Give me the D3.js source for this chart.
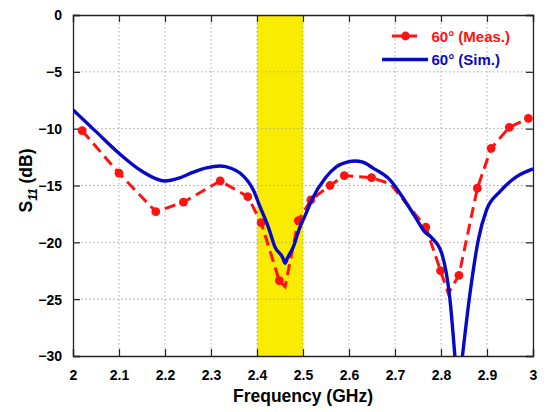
<!DOCTYPE html>
<html>
<head>
<meta charset="utf-8">
<script src="https://cdn.jsdelivr.net/npm/d3@7"></script>
<style>
  html, body { margin: 0; padding: 0; background: #fff; }
  svg { display: block; font-family: Arial, "Liberation Sans", sans-serif; }
</style>
</head>
<body>
<svg id="chart" width="547" height="412"></svg>
<script>
// Return loss S11 of the 60° antenna: measurement vs. simulation
const xTicks = [2, 2.1, 2.2, 2.3, 2.4, 2.5, 2.6, 2.7, 2.8, 2.9, 3];
const yTicks = [0, -5, -10, -15, -20, -25, -30];
const band = [2.4, 2.5];   // highlighted operating band (GHz)

// Measured curve (GHz, dB); markers drawn on the listed indices
const measFreq = [2.020, 2.100, 2.180, 2.240, 2.320, 2.380, 2.409, 2.4485, 2.461, 2.4898, 2.517,
                  2.5587, 2.5898, 2.649, 2.690, 2.725, 2.767, 2.799, 2.816, 2.839, 2.879, 2.909, 2.9485, 2.990];
const measS11  = [-10.18, -13.92, -17.3, -16.47, -14.6, -15.98, -18.27, -23.37, -23.9, -18.09, -16.27,
                  -15.0, -14.13, -14.31, -14.85, -16.6, -18.67, -22.5, -24.5, -22.9, -15.24, -11.73, -9.88, -9.09];
const measMarkerIdx = [0, 1, 2, 3, 4, 5, 6, 7, 9, 10, 11, 12, 13, 16, 17, 19, 20, 21, 22, 23];

// Simulated curve (GHz, dB)
const simFreq = [2.000, 2.050, 2.100, 2.150, 2.200, 2.230, 2.260, 2.290, 2.320, 2.345, 2.363, 2.392,
                 2.4065, 2.425, 2.439, 2.456, 2.461, 2.466, 2.479, 2.493, 2.504, 2.519, 2.548, 2.573, 2.600, 2.613,
                 2.630, 2.653, 2.689, 2.725, 2.755, 2.762, 2.780, 2.8015, 2.8196, 2.832, 2.837, 2.842, 2.863, 2.881,
                 2.899, 2.928, 2.9645, 3.000];
const simS11  = [-8.35, -10.26, -12.17, -13.75, -14.6, -14.35, -13.85, -13.45, -13.28, -13.5, -13.9, -15.4,
                 -16.86, -18.7, -20.4, -21.35, -21.84, -21.4, -20.4, -18.7, -17.7, -16.27, -14.36, -13.34, -12.9, -12.84,
                 -12.95, -13.49, -14.5, -16.56, -18.5, -18.95, -19.6, -20.96, -25.07, -30.9, -33.3, -31.6, -24.5, -19.8,
                 -17.15, -15.54, -14.22, -13.54];

const seriesNames = ["60° (Meas.)", "60° (Sim.)"];
const RED = "#ff1212", BLUE = "#0808c8";
const FONT = "Arial, 'Liberation Sans', sans-serif";

const svg = d3.select("#chart");
const m = { left: 73, right: 14, top: 15, bottom: 56 };
const W = 547 - m.left - m.right, H = 412 - m.top - m.bottom;

const x = d3.scaleLinear().domain([2, 3]).range([0, W]);
const y = d3.scaleLinear().domain([-30, 0]).range([H, 0]);

const g = svg.append("g").attr("transform", `translate(${m.left},${m.top})`);

g.append("defs").append("clipPath").attr("id", "plotClip")
  .append("rect").attr("width", W).attr("height", H);

// band highlight
g.append("rect")
  .attr("x", x(band[0])).attr("y", 0)
  .attr("width", x(band[1]) - x(band[0])).attr("height", H)
  .attr("fill", "#f9ec00");

// dotted grid
const grid = g.append("g").attr("stroke", "#a8a8a8").attr("stroke-width", 1).attr("stroke-dasharray", "1.5,2.5");
grid.selectAll(".gx").data(xTicks.slice(1, -1)).join("line")
  .attr("x1", d => x(d)).attr("x2", d => x(d)).attr("y1", 0).attr("y2", H);
grid.selectAll(".gy").data(yTicks.slice(1, -1)).join("line")
  .attr("x1", 0).attr("x2", W).attr("y1", d => y(d)).attr("y2", d => y(d));

// axes with inward ticks
const fmtX = d => d3.format("")(+d.toFixed(1));
const axB = g.append("g").attr("transform", `translate(0,${H})`)
  .call(d3.axisBottom(x).tickValues(xTicks).tickSize(-7).tickPadding(14).tickFormat(fmtX));
const axT = g.append("g")
  .call(d3.axisTop(x).tickValues(xTicks).tickSize(-7).tickFormat(""));
const axL = g.append("g")
  .call(d3.axisLeft(y).tickValues(yTicks).tickSize(-7).tickPadding(11).tickFormat(d3.format("")));
const axR = g.append("g").attr("transform", `translate(${W},0)`)
  .call(d3.axisRight(y).tickValues(yTicks).tickSize(-7).tickFormat(""));
[axB, axT, axL, axR].forEach(a => {
  a.select(".domain").attr("stroke", "#222").attr("stroke-width", 1.3);
  a.selectAll(".tick line").attr("stroke", "#222").attr("stroke-width", 1.2);
  a.selectAll("text").attr("font-size", 14).attr("font-weight", "bold").attr("fill", "#000")
    .attr("font-family", FONT);
});
axL.selectAll(".tick text").attr("dy", "0.35em");

// curves
const plot = g.append("g").attr("clip-path", "url(#plotClip)");
const measLine = d3.line().x(d => x(d[0])).y(d => y(d[1]));
const simLine = d3.line().x(d => x(d[0])).y(d => y(d[1])).curve(d3.curveMonotoneX);

const simPts = simFreq.map((f, i) => [f, simS11[i]]);
const measPts = measFreq.map((f, i) => [f, measS11[i]]);

plot.append("path").datum(measPts)
  .attr("d", measLine).attr("fill", "none")
  .attr("stroke", RED).attr("stroke-width", 3)
  .attr("stroke-dasharray", "11,6");

plot.selectAll(".mk").data(measMarkerIdx.map(i => measPts[i])).join("circle")
  .attr("cx", d => x(d[0])).attr("cy", d => y(d[1])).attr("r", 4.4)
  .attr("fill", RED);

plot.append("path").datum(simPts)
  .attr("d", simLine).attr("fill", "none")
  .attr("stroke", BLUE).attr("stroke-width", 3.4)
  .attr("stroke-linejoin", "round");

// legend
const lg = g.append("g").attr("font-family", FONT);
lg.append("line").attr("x1", 319).attr("x2", 344).attr("y1", 21).attr("y2", 21)
  .attr("stroke", RED).attr("stroke-width", 3).attr("stroke-dasharray", "10,6");
lg.append("circle").attr("cx", 332.5).attr("cy", 21).attr("r", 4.4).attr("fill", RED);
lg.append("text").attr("x", 358.5).attr("y", 26.5).text(seriesNames[0])
  .attr("fill", RED).attr("font-size", 15).attr("font-weight", "bold");
lg.append("line").attr("x1", 309).attr("x2", 355).attr("y1", 44.5).attr("y2", 44.5)
  .attr("stroke", BLUE).attr("stroke-width", 3.4);
lg.append("text").attr("x", 358.5).attr("y", 50).text(seriesNames[1])
  .attr("fill", BLUE).attr("font-size", 15).attr("font-weight", "bold");

// axis titles
svg.append("text").attr("x", m.left + W / 2).attr("y", 402).attr("text-anchor", "middle")
  .attr("font-family", FONT).attr("font-size", 17.5).attr("font-weight", "bold").text("Frequency (GHz)");

const yt = svg.append("text").attr("transform", `translate(32,${m.top + H / 2 - 5}) rotate(-90)`)
  .attr("text-anchor", "middle").attr("font-family", FONT).attr("font-size", 17.5).attr("font-weight", "bold");
yt.append("tspan").text("S");
yt.append("tspan").text("11").attr("font-style", "italic").attr("font-size", 12).attr("dy", 5);
yt.append("tspan").text(" (dB)").attr("dy", -5);
</script>
</body>
</html>
